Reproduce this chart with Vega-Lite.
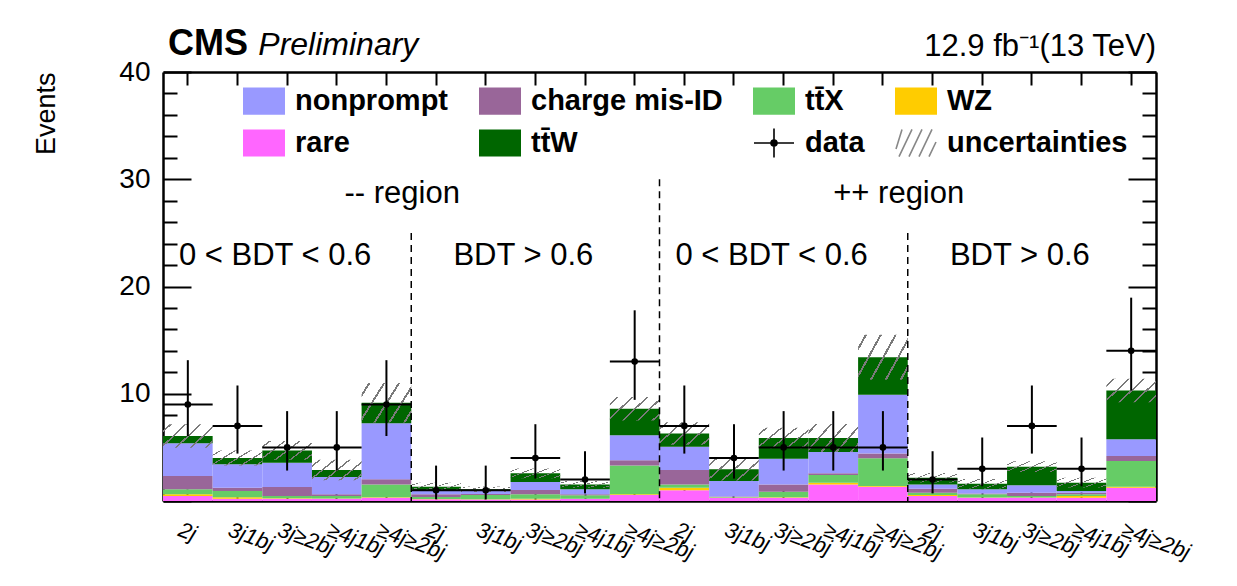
{
  "$schema": "https://vega.github.io/schema/vega-lite/v6.json",
  "width": 993,
  "height": 429,
  "autosize": {"type": "none"},
  "padding": {"left": 163, "top": 72, "right": 81, "bottom": 85},
  "background": "white",
  "config": {
    "font": "Liberation Sans",
    "view": {"stroke": null},
    "axis": {
      "grid": false,
      "domainColor": "black",
      "domainWidth": 2.5,
      "tickColor": "black",
      "tickWidth": 2,
      "labelColor": "black",
      "titleColor": "black",
      "labelFont": "Liberation Sans",
      "titleFont": "Liberation Sans",
      "zindex": 1
    },
    "text": {"font": "Liberation Sans", "color": "black"}
  },
  "datasets": {
    "bins": [
      {"bin": 1, "rare": 0.47, "WZ": 0.15, "ttX": 0.47, "chargeMisID": 1.24, "nonprompt": 3.05, "ttW": 0.68, "unc": 1.1, "data": 9, "dlo": 6.06, "dhi": 13.13},
      {"bin": 2, "rare": 0.2, "WZ": 0.15, "ttX": 0.58, "chargeMisID": 0.31, "nonprompt": 2.18, "ttW": 0.58, "unc": 0.7, "data": 7, "dlo": 4.42, "dhi": 10.77},
      {"bin": 3, "rare": 0.2, "WZ": 0.05, "ttX": 0.22, "chargeMisID": 0.83, "nonprompt": 2.27, "ttW": 1.15, "unc": 0.88, "data": 5, "dlo": 2.84, "dhi": 8.38},
      {"bin": 4, "rare": 0.2, "WZ": 0.03, "ttX": 0.24, "chargeMisID": 0.15, "nonprompt": 1.62, "ttW": 0.65, "unc": 0.95, "data": 5, "dlo": 2.84, "dhi": 8.38},
      {"bin": 5, "rare": 0.31, "WZ": 0.05, "ttX": 1.19, "chargeMisID": 0.47, "nonprompt": 5.22, "ttW": 1.92, "unc": 1.85, "data": 9, "dlo": 6.06, "dhi": 13.13},
      {"bin": 6, "rare": 0.16, "WZ": 0.02, "ttX": 0.19, "chargeMisID": 0.25, "nonprompt": 0.4, "ttW": 0.32, "unc": 0.36, "data": 1, "dlo": 0.17, "dhi": 3.3},
      {"bin": 7, "rare": 0.15, "WZ": 0.02, "ttX": 0.38, "chargeMisID": 0.1, "nonprompt": 0.3, "ttW": 0.15, "unc": 0.25, "data": 1, "dlo": 0.17, "dhi": 3.3},
      {"bin": 8, "rare": 0.15, "WZ": 0.07, "ttX": 0.4, "chargeMisID": 0.4, "nonprompt": 0.75, "ttW": 0.81, "unc": 0.45, "data": 4, "dlo": 2.09, "dhi": 7.16},
      {"bin": 9, "rare": 0.2, "WZ": 0.02, "ttX": 0.31, "chargeMisID": 0.09, "nonprompt": 0.47, "ttW": 0.46, "unc": 0.32, "data": 2, "dlo": 0.71, "dhi": 4.64},
      {"bin": 10, "rare": 0.55, "WZ": 0.07, "ttX": 2.7, "chargeMisID": 0.47, "nonprompt": 2.33, "ttW": 2.48, "unc": 1.1, "data": 13, "dlo": 9.43, "dhi": 17.78},
      {"bin": 11, "rare": 1.0, "WZ": 0.24, "ttX": 0.31, "chargeMisID": 1.34, "nonprompt": 2.17, "ttW": 1.24, "unc": 1.05, "data": 7, "dlo": 4.42, "dhi": 10.77},
      {"bin": 12, "rare": 0.3, "WZ": 0.02, "ttX": 0.05, "chargeMisID": 0.05, "nonprompt": 1.44, "ttW": 1.09, "unc": 1.05, "data": 4, "dlo": 2.09, "dhi": 7.16},
      {"bin": 13, "rare": 0.3, "WZ": 0.05, "ttX": 0.52, "chargeMisID": 0.68, "nonprompt": 2.39, "ttW": 1.93, "unc": 0.95, "data": 5, "dlo": 2.84, "dhi": 8.38},
      {"bin": 14, "rare": 1.55, "WZ": 0.16, "ttX": 0.71, "chargeMisID": 0.16, "nonprompt": 1.99, "ttW": 1.3, "unc": 1.3, "data": 5, "dlo": 2.84, "dhi": 8.38},
      {"bin": 15, "rare": 1.34, "WZ": 0.06, "ttX": 2.58, "chargeMisID": 0.46, "nonprompt": 5.46, "ttW": 3.5, "unc": 2.1, "data": 5, "dlo": 2.84, "dhi": 8.38},
      {"bin": 16, "rare": 0.47, "WZ": 0.09, "ttX": 0.22, "chargeMisID": 0.37, "nonprompt": 0.4, "ttW": 0.62, "unc": 0.45, "data": 2, "dlo": 0.71, "dhi": 4.64},
      {"bin": 17, "rare": 0.31, "WZ": 0.01, "ttX": 0.3, "chargeMisID": 0.09, "nonprompt": 0.38, "ttW": 0.52, "unc": 0.45, "data": 3, "dlo": 1.37, "dhi": 5.92},
      {"bin": 18, "rare": 0.31, "WZ": 0.01, "ttX": 0.15, "chargeMisID": 0.31, "nonprompt": 0.68, "ttW": 1.74, "unc": 0.5, "data": 7, "dlo": 4.42, "dhi": 10.77},
      {"bin": 19, "rare": 0.31, "WZ": 0.16, "ttX": 0.15, "chargeMisID": 0.16, "nonprompt": 0.15, "ttW": 0.78, "unc": 0.45, "data": 3, "dlo": 1.37, "dhi": 5.92},
      {"bin": 20, "rare": 1.24, "WZ": 0.1, "ttX": 2.39, "chargeMisID": 0.46, "nonprompt": 1.56, "ttW": 4.55, "unc": 1.1, "data": 14, "dlo": 10.3, "dhi": 18.96}
    ]
  },
  "layer": [
    {
      "data": {"name": "bins"},
      "transform": [
        {"fold": ["rare", "WZ", "ttX", "chargeMisID", "nonprompt", "ttW"], "as": ["proc", "n"]},
        {"calculate": "indexof(['rare', 'WZ', 'ttX', 'chargeMisID', 'nonprompt', 'ttW'], datum.proc)", "as": "k"}
      ],
      "mark": {"type": "bar"},
      "encoding": {
        "x": {
          "field": "bin", "type": "ordinal",
          "scale": {"paddingInner": 0, "paddingOuter": 0},
          "axis": {
            "orient": "bottom", "title": null, "domain": false,
            "offset": -12, "tickSize": 12, "labelPadding": 18, "labelAngle": 20,
            "labelAlign": "left", "labelBaseline": "top", "labelOffset": -5,
            "labelFontSize": 22, "labelFontStyle": "italic",
            "labelOverlap": false, "labelBound": false, "labelFlush": false,
            "labelExpr": "['2j', '3j1bj', '3j≥2bj', '≥4j1bj', '≥4j≥2bj'][(datum.value - 1) % 5]"
          }
        },
        "y": {
          "field": "n", "type": "quantitative", "stack": "zero",
          "scale": {"domain": [0, 40], "nice": false},
          "axis": {
            "orient": "left", "values": [0, 10, 20, 30, 40], "domain": false,
            "offset": -28, "tickSize": 28, "labelPadding": 13, "labelFontSize": 28,
            "labelExpr": "datum.value === 0 ? '' : datum.label",
            "title": "Events", "titleFontSize": 27, "titleFontWeight": "normal",
            "titleAnchor": "end", "titlePadding": 58
          }
        },
        "color": {
          "field": "proc", "type": "nominal",
          "scale": {
            "domain": ["nonprompt", "chargeMisID", "ttX", "WZ", "rare", "ttW", "data", "unc"],
            "range": ["#9999ff", "#996699", "#66cc66", "#ffcc00", "#ff66ff", "#006600", "#000000", "#888888"]
          },
          "legend": {
            "orient": "none", "legendX": 80, "legendY": 8,
            "direction": "horizontal", "columns": 4, "title": null,
            "padding": 0, "columnPadding": 26, "rowPadding": 4,
            "symbolSize": 1600, "symbolStrokeWidth": 1.6, "labelOffset": 10,
            "labelFont": "Liberation Sans", "labelFontSize": 29, "labelFontWeight": "bold", "labelColor": "black",
            "labelLimit": 400,
            "labelExpr": "datum.value === 'chargeMisID' ? 'charge mis-ID' : datum.value === 'ttX' ? 'tt̄X' : datum.value === 'ttW' ? 'tt̄W' : datum.value === 'unc' ? 'uncertainties' : datum.value",
            "encode": {
              "symbols": {
                "update": {
                  "shape": {"signal": "datum.value === 'data' ? 'M-1,0H1M0,-0.72V0.72M0.15,0A0.15,0.15,0,1,1,-0.15,0A0.15,0.15,0,1,1,0.15,0Z' : datum.value === 'unc' ? 'M-1,0.3L-0.7,-0.68M-0.85,0.68L-0.2,-0.68M-0.35,0.68L0.3,-0.68M0.15,0.68L0.8,-0.68M0.65,0.68L1,-0.05' : 'M-1.05,-0.68H1.05V0.68H-1.05Z'"},
                  "stroke": {"signal": "datum.value === 'data' ? 'black' : datum.value === 'unc' ? '#888888' : 'transparent'"},
                  "opacity": {"value": 1}
                }
              }
            }
          }
        },
        "order": {"field": "k", "type": "quantitative"}
      }
    },
    {
      "data": {"name": "bins"},
      "transform": [
        {"calculate": "datum.rare + datum.WZ + datum.ttX + datum.chargeMisID + datum.nonprompt + datum.ttW", "as": "tot"},
        {"calculate": "datum.tot - datum.unc", "as": "hlo"},
        {"calculate": "datum.tot + datum.unc", "as": "hhi"}
      ],
      "mark": {
        "type": "bar",
        "fill": {
          "gradient": "linear", "x1": 0, "y1": 0, "x2": 1.2, "y2": 0.6,
          "stops": [
            {"offset": 0, "color": "rgba(128,128,128,0)"},
            {"offset": 0.09, "color": "rgba(128,128,128,0)"},
            {"offset": 0.09, "color": "#7a7a7a"},
            {"offset": 0.12, "color": "#7a7a7a"},
            {"offset": 0.12, "color": "rgba(128,128,128,0)"},
            {"offset": 0.29, "color": "rgba(128,128,128,0)"},
            {"offset": 0.29, "color": "#7a7a7a"},
            {"offset": 0.32, "color": "#7a7a7a"},
            {"offset": 0.32, "color": "rgba(128,128,128,0)"},
            {"offset": 0.49, "color": "rgba(128,128,128,0)"},
            {"offset": 0.49, "color": "#7a7a7a"},
            {"offset": 0.52, "color": "#7a7a7a"},
            {"offset": 0.52, "color": "rgba(128,128,128,0)"},
            {"offset": 0.69, "color": "rgba(128,128,128,0)"},
            {"offset": 0.69, "color": "#7a7a7a"},
            {"offset": 0.72, "color": "#7a7a7a"},
            {"offset": 0.72, "color": "rgba(128,128,128,0)"},
            {"offset": 0.89, "color": "rgba(128,128,128,0)"},
            {"offset": 0.89, "color": "#7a7a7a"},
            {"offset": 0.92, "color": "#7a7a7a"},
            {"offset": 0.92, "color": "rgba(128,128,128,0)"},
            {"offset": 1, "color": "rgba(128,128,128,0)"}
          ]
        },
        "strokeWidth": 0
      },
      "encoding": {
        "x": {
          "field": "bin", "type": "ordinal",
          "axis": {"orient": "top", "title": null, "labels": false, "domain": false, "offset": -13, "tickSize": 13}
        },
        "y": {
          "field": "hlo", "type": "quantitative",
          "axis": {"orient": "right", "title": null, "labels": false, "domain": false, "values": [0, 10, 20, 30, 40], "offset": -28, "tickSize": 28}
        },
        "y2": {"field": "hhi"}
      }
    },
    {
      "data": {"name": "bins"},
      "mark": {"type": "rule", "color": "black", "strokeWidth": 2},
      "encoding": {
        "x": {
          "field": "bin", "type": "ordinal",
          "axis": {"orient": "bottom", "title": null, "labels": false, "ticks": false, "domain": true}
        },
        "y": {
          "field": "dlo", "type": "quantitative",
          "axis": {"orient": "left", "title": null, "labels": false, "domain": false, "offset": -14, "tickSize": 14,
                   "values": [2, 4, 6, 8, 12, 14, 16, 18, 22, 24, 26, 28, 32, 34, 36, 38]}
        },
        "y2": {"field": "dhi"}
      }
    },
    {
      "data": {"name": "bins"},
      "mark": {"type": "bar", "fill": "transparent", "stroke": "black", "strokeWidth": 2},
      "encoding": {
        "x": {
          "field": "bin", "type": "ordinal",
          "axis": {"orient": "top", "title": null, "labels": false, "ticks": false, "domain": true}
        },
        "y": {
          "field": "data", "type": "quantitative",
          "axis": {"orient": "right", "title": null, "labels": false, "domain": false, "offset": -14, "tickSize": 14,
                   "values": [2, 4, 6, 8, 12, 14, 16, 18, 22, 24, 26, 28, 32, 34, 36, 38]}
        },
        "y2": {"field": "data"}
      }
    },
    {
      "data": {"name": "bins"},
      "mark": {"type": "point", "filled": true, "color": "black", "size": 44, "opacity": 1},
      "encoding": {
        "x": {"field": "bin", "type": "ordinal", "axis": null},
        "y": {
          "field": "data", "type": "quantitative",
          "axis": {"orient": "left", "title": null, "labels": false, "ticks": false, "domain": true}
        }
      }
    },
    {
      "data": {"values": [{"bin": 5, "top": 25}, {"bin": 10, "top": 30}, {"bin": 15, "top": 25}]},
      "mark": {"type": "rule", "color": "black", "strokeWidth": 1.5, "strokeDash": [7, 5]},
      "encoding": {
        "x": {"field": "bin", "type": "ordinal", "bandPosition": 1, "axis": null},
        "y": {
          "field": "top", "type": "quantitative",
          "axis": {"orient": "right", "title": null, "labels": false, "ticks": false, "domain": true}
        },
        "y2": {"datum": 0}
      }
    },
    {
      "data": {"values": [{"bin": 5, "t": "-- region"}, {"bin": 15, "t": "++ region"}]},
      "mark": {"type": "text", "fontSize": 31, "align": "center", "baseline": "middle", "dx": -9},
      "encoding": {
        "x": {"field": "bin", "type": "ordinal", "bandPosition": 1, "axis": null},
        "y": {"datum": 28.65, "type": "quantitative", "axis": null},
        "text": {"field": "t"}
      }
    },
    {
      "data": {"values": [
        {"bin": 3, "t": "0 < BDT < 0.6"}, {"bin": 8, "t": "BDT > 0.6"},
        {"bin": 13, "t": "0 < BDT < 0.6"}, {"bin": 18, "t": "BDT > 0.6"}
      ]},
      "mark": {"type": "text", "fontSize": 31, "align": "center", "baseline": "middle", "dx": -12},
      "encoding": {
        "x": {"field": "bin", "type": "ordinal", "axis": null},
        "y": {"datum": 22.8, "type": "quantitative", "axis": null},
        "text": {"field": "t"}
      }
    },
    {
      "data": {"values": [{"bin": 1, "t": "CMS"}]},
      "mark": {"type": "text", "fontSize": 36, "fontWeight": "bold", "align": "left", "baseline": "alphabetic", "dx": 5},
      "encoding": {
        "x": {"field": "bin", "type": "ordinal", "bandPosition": 0, "axis": null},
        "y": {"datum": 41.63, "type": "quantitative", "axis": null},
        "text": {"field": "t"}
      }
    },
    {
      "data": {"values": [{"bin": 2, "t": "Preliminary"}]},
      "mark": {"type": "text", "fontSize": 32, "fontStyle": "italic", "align": "left", "baseline": "alphabetic"},
      "encoding": {
        "x": {"field": "bin", "type": "ordinal", "bandPosition": 0.92, "axis": null},
        "y": {"datum": 41.63, "type": "quantitative", "axis": null},
        "text": {"field": "t"}
      }
    },
    {
      "data": {"values": [{"bin": 20, "t": "12.9 fb⁻¹(13 TeV)"}]},
      "mark": {"type": "text", "fontSize": 31, "align": "right", "baseline": "alphabetic"},
      "encoding": {
        "x": {"field": "bin", "type": "ordinal", "bandPosition": 1, "axis": null},
        "y": {"datum": 41.5, "type": "quantitative", "axis": null},
        "text": {"field": "t"}
      }
    }
  ],
  "resolve": {"axis": {"x": "independent", "y": "independent"}}
}
